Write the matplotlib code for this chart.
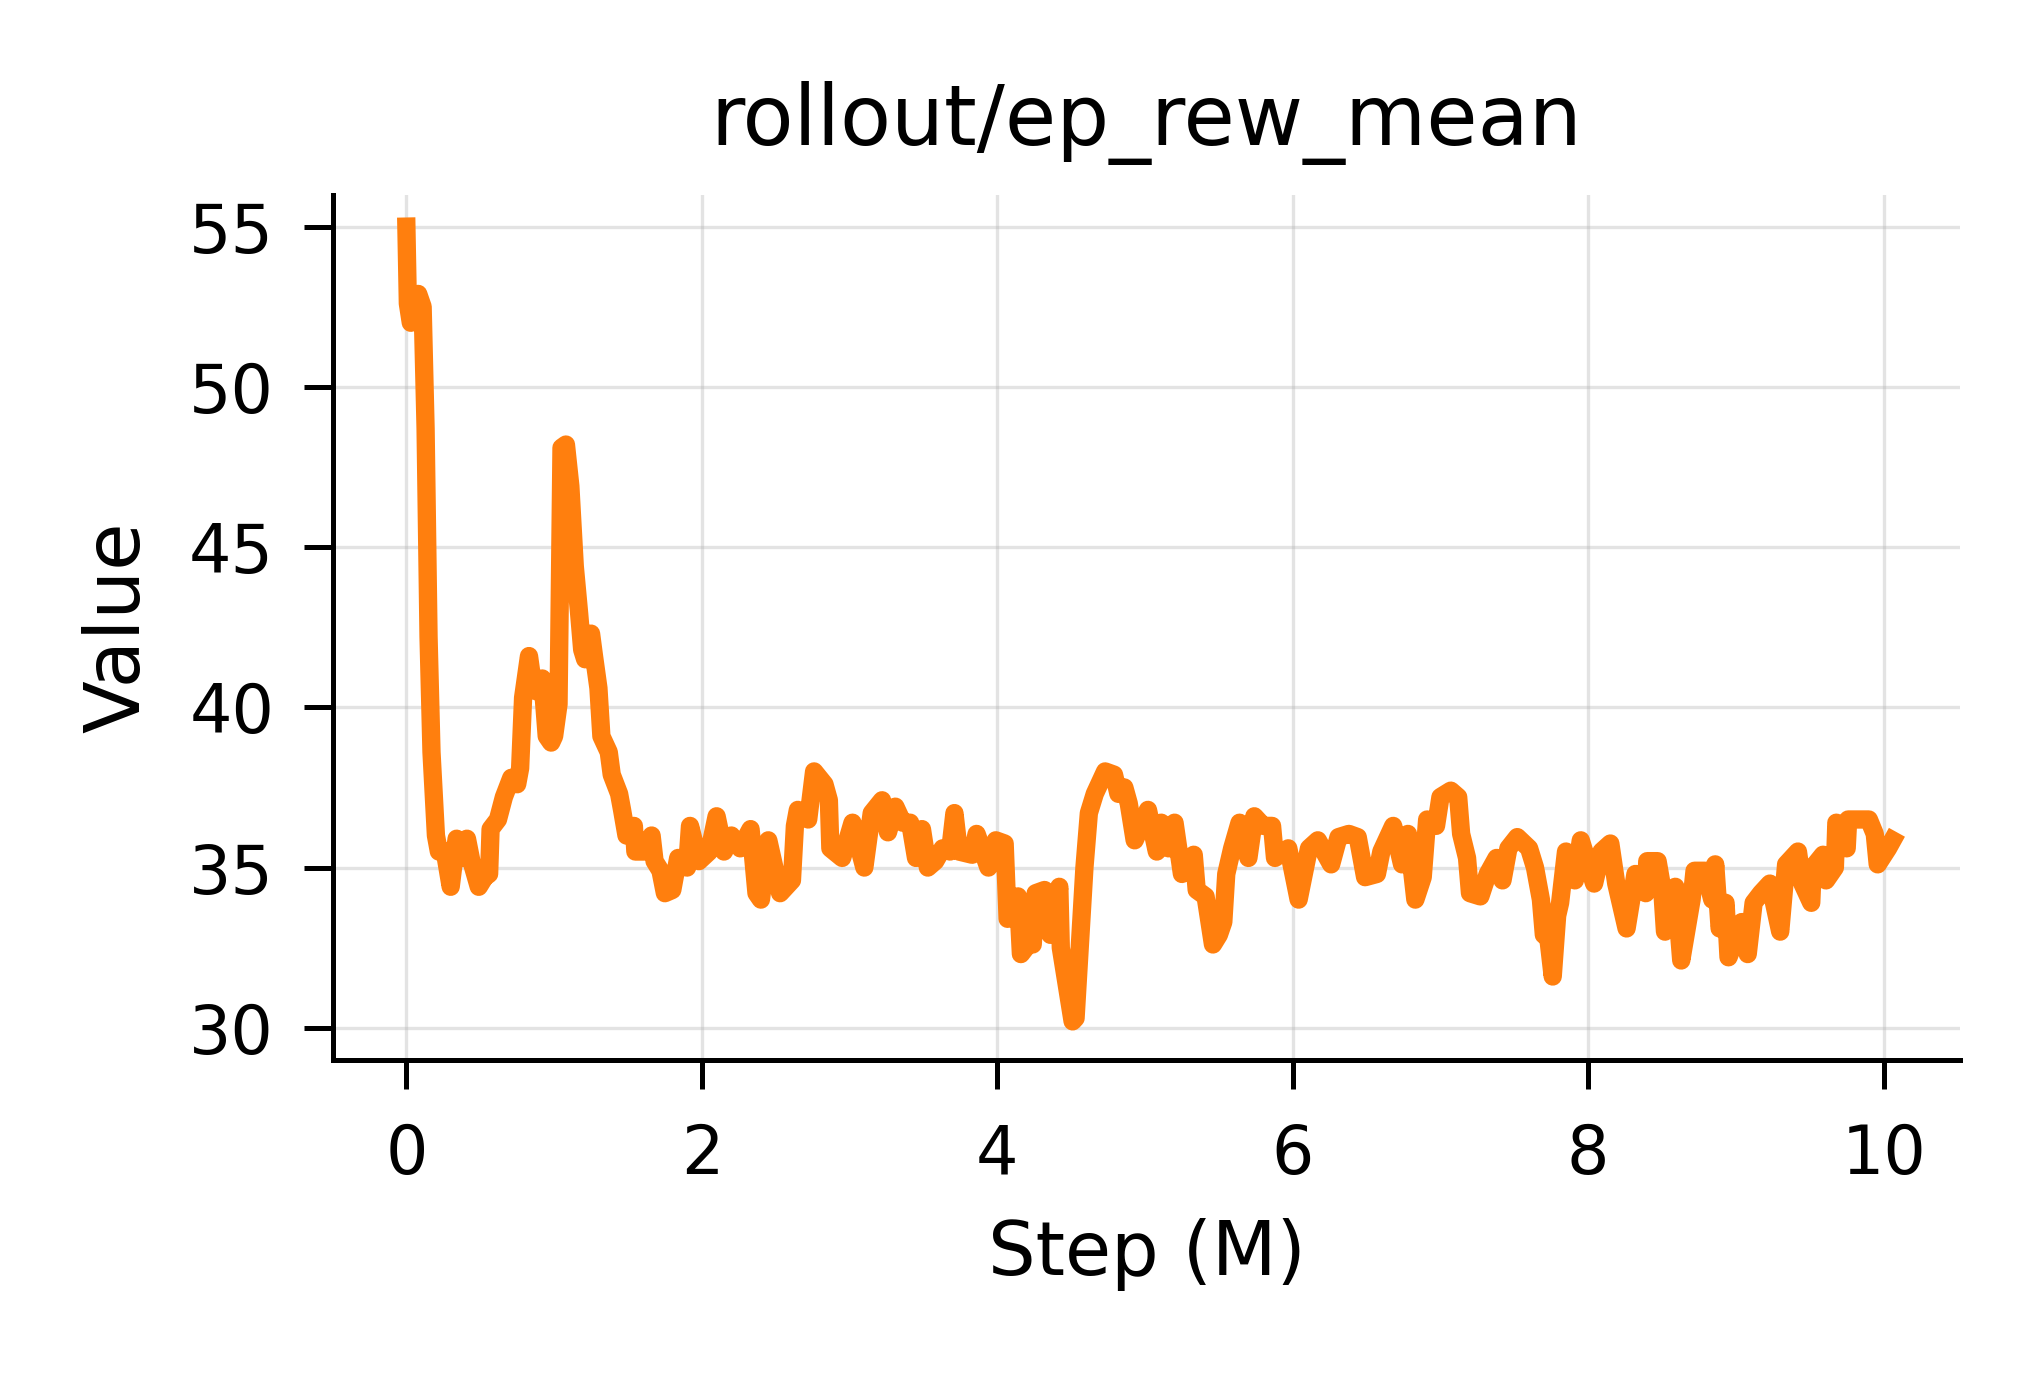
import numpy as np
import matplotlib; matplotlib.use("Agg")
import matplotlib.pyplot as plt

# step in millions, mean episode reward
step_m = [0.00, 0.01, 0.03, 0.08, 0.11, 0.13, 0.15, 0.17, 0.20, 0.22, 0.26, 0.30, 0.34, 0.38,
          0.41, 0.44, 0.49, 0.53, 0.56, 0.57, 0.62, 0.66, 0.71, 0.75, 0.77, 0.79, 0.83, 0.86,
          0.88, 0.92, 0.95, 0.98, 1.00, 1.03, 1.05, 1.08, 1.11, 1.14, 1.17, 1.19, 1.21, 1.23,
          1.25, 1.27, 1.30, 1.32, 1.37, 1.39, 1.44, 1.46, 1.49, 1.54, 1.55, 1.61, 1.66, 1.68,
          1.72, 1.75, 1.80, 1.84, 1.90, 1.92, 1.98, 2.05, 2.10, 2.15, 2.20, 2.26, 2.33, 2.37,
          2.40, 2.45, 2.53, 2.61, 2.63, 2.65, 2.72, 2.76, 2.83, 2.86, 2.87, 2.95, 3.02, 3.10,
          3.15, 3.22, 3.26, 3.31, 3.36, 3.41, 3.45, 3.49, 3.53, 3.58, 3.63, 3.68, 3.71, 3.74,
          3.83, 3.86, 3.94, 3.99, 4.05, 4.07, 4.14, 4.16, 4.21, 4.24, 4.26, 4.32, 4.36, 4.42,
          4.43, 4.51, 4.53, 4.59, 4.62, 4.66, 4.73, 4.79, 4.82, 4.86, 4.89, 4.93, 5.02, 5.08,
          5.11, 5.16, 5.20, 5.25, 5.33, 5.35, 5.41, 5.46, 5.50, 5.53, 5.55, 5.59, 5.64, 5.70,
          5.74, 5.80, 5.86, 5.88, 5.97, 6.04, 6.11, 6.17, 6.26, 6.31, 6.38, 6.44, 6.49, 6.57,
          6.60, 6.68, 6.74, 6.78, 6.83, 6.88, 6.91, 6.97, 7.00, 7.07, 7.12, 7.14, 7.18, 7.20,
          7.27, 7.32, 7.38, 7.42, 7.46, 7.52, 7.60, 7.64, 7.68, 7.70, 7.73, 7.76, 7.79, 7.81,
          7.85, 7.91, 7.95, 8.04, 8.09, 8.15, 8.19, 8.26, 8.32, 8.39, 8.40, 8.47, 8.50, 8.52,
          8.59, 8.63, 8.70, 8.72, 8.79, 8.84, 8.86, 8.89, 8.93, 8.95, 9.04, 9.08, 9.12, 9.17,
          9.23, 9.30, 9.34, 9.42, 9.45, 9.51, 9.52, 9.59, 9.61, 9.67, 9.68, 9.75, 9.76, 9.83,
          9.90, 9.94, 9.96, 10.03, 10.06]
ep_rew = [55.0, 52.6, 52.0, 52.9, 52.5, 48.7, 42.2, 38.6, 36.0, 35.5, 35.5, 34.4, 35.9, 35.3,
          35.9, 35.2, 34.4, 34.7, 34.8, 36.2, 36.5, 37.2, 37.8, 37.6, 38.1, 40.3, 41.6, 40.6,
          40.5, 40.9, 39.1, 38.9, 39.1, 40.1, 48.1, 48.2, 46.9, 44.4, 42.9, 41.8, 41.5, 42.2,
          42.3, 41.6, 40.6, 39.1, 38.6, 37.9, 37.3, 36.8, 36.0, 36.3, 35.5, 35.5, 36.0, 35.2,
          34.9, 34.2, 34.3, 35.3, 35.0, 36.3, 35.2, 35.5, 36.6, 35.5, 36.0, 35.6, 36.2, 34.2,
          34.0, 35.85, 34.2, 34.6, 36.3, 36.8, 36.5, 38.0, 37.6, 37.1, 35.6, 35.3, 36.4, 35.0,
          36.7, 37.1, 36.1, 36.9, 36.4, 36.4, 35.3, 36.2, 35.0, 35.2, 35.6, 35.5, 36.7, 35.5,
          35.4, 36.05, 35.0, 35.85, 35.75, 33.4, 34.1, 32.3, 32.6, 32.6, 34.2, 34.3, 32.9, 34.4,
          32.5, 30.2, 30.3, 35.0, 36.7, 37.3, 38.0, 37.9, 37.3, 37.5, 37.0, 35.85, 36.8, 35.5,
          36.4, 35.6, 36.4, 34.8, 35.4, 34.3, 34.1, 32.6, 32.9, 33.3, 34.8, 35.6, 36.4, 35.3,
          36.6, 36.3, 36.3, 35.3, 35.6, 34.0, 35.6, 35.85, 35.1, 35.95, 36.05, 35.95, 34.7, 34.8,
          35.5, 36.3, 35.1, 36.05, 34.0, 34.7, 36.5, 36.3, 37.2, 37.4, 37.2, 36.05, 35.3, 34.2,
          34.1, 34.8, 35.3, 34.6, 35.6, 35.95, 35.6, 35.0, 34.0, 32.9, 32.8, 31.6, 33.5, 33.9,
          35.5, 34.6, 35.85, 34.5, 35.5, 35.75, 34.5, 33.1, 34.8, 34.2, 35.2, 35.2, 34.4, 33.0,
          34.4, 32.1, 34.0, 34.9, 34.9, 34.0, 35.1, 33.1, 33.9, 32.2, 33.3, 32.3, 33.9, 34.2,
          34.5, 33.0, 35.1, 35.5, 34.5, 33.9, 35.0, 35.4, 34.6, 35.0, 36.4, 35.6, 36.5, 36.5,
          36.5, 36.05, 35.1, 35.6, 35.85]
x_ticks = [0, 2, 4, 6, 8, 10]
y_ticks = [30, 35, 40, 45, 50, 55]

plt.rcParams["font.family"] = "DejaVu Sans"
fig = plt.figure(figsize=(6.8, 4.6), dpi=300)
ax = fig.add_axes([0.163, 0.232, 0.798, 0.627])
ax.plot(step_m, ep_rew, color="#ff7f0e", lw=4.4)
ax.set_xlim(-0.5, 10.52); ax.set_ylim(29, 56)
ax.set_xticks(x_ticks); ax.set_yticks(y_ticks)
ax.tick_params(labelsize=16, length=7, width=1.2)
ax.tick_params(axis="x", pad=8)
ax.tick_params(axis="y", pad=7)
for s in ("top", "right"): ax.spines[s].set_visible(False)
for s in ("left", "bottom"): ax.spines[s].set_linewidth(1.2)
ax.grid(color="#b0b0b0", alpha=0.35, lw=0.8)
ax.set_axisbelow(True)
ax.set_title("rollout/ep_rew_mean", fontsize=20, pad=12)
ax.set_xlabel("Step (M)", fontsize=18, labelpad=7)
ax.set_ylabel("Value", fontsize=18.5, labelpad=8)
fig.savefig("out.png", dpi=300)
